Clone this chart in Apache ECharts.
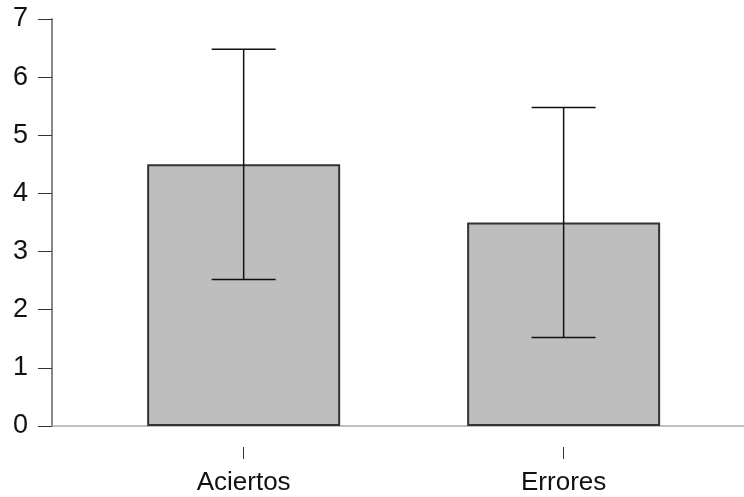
<!DOCTYPE html>
<html>
<head>
<meta charset="utf-8">
<script src="https://cdn.jsdelivr.net/npm/echarts@6/dist/echarts.min.js"></script>
<style>html,body{margin:0;padding:0;background:#fff;}#c{width:744px;height:497px;}</style>
</head>
<body>
<div id="c"></div>
<script>
const categories = ['Aciertos', 'Errores'];
const positions = [1, 2];
const means = [4.5, 3.5];
const lower = [2.52, 1.52];
const upper = [6.48, 5.48];
const yTicks = [0, 1, 2, 3, 4, 5, 6, 7];

const FONT = 'Liberation Sans, Arial, sans-serif';
const chart = echarts.init(document.getElementById('c'), null, {renderer: 'canvas'});
const xMin = 0.401, xMax = 2.5637;

chart.setOption({
  animation: false,
  backgroundColor: '#fff',
  grid: {left: 52, right: 0, top: 19, bottom: 71, containLabel: false},
  xAxis: [{
    type: 'value', min: xMin, max: xMax, position: 'bottom', offset: 21,
    axisLine: {show: false, onZero: false},
    splitLine: {show: false},
    axisTick: {show: true, customValues: positions, length: 12, lineStyle: {color: '#333', width: 1}},
    axisLabel: {show: true, customValues: positions, margin: 23, fontSize: 26, color: '#111', fontFamily: FONT,
      formatter: v => categories[positions.indexOf(Math.round(v))] || ''}
  }, {
    type: 'value', min: xMin, max: xMax, position: 'bottom', offset: 0,
    axisLine: {show: true, onZero: false, lineStyle: {color: '#aaa', width: 1.5}},
    axisTick: {show: false}, axisLabel: {show: false}, splitLine: {show: false}
  }],
  yAxis: {
    type: 'value', min: 0, max: 7, interval: 1,
    axisLine: {show: true, onZero: false, lineStyle: {color: '#888', width: 2}},
    axisTick: {show: true, length: 14, lineStyle: {color: '#333', width: 1}},
    axisLabel: {margin: 24, fontSize: 27, color: '#111', fontFamily: FONT,
      formatter: v => yTicks.includes(v) ? String(v) : ''},
    splitLine: {show: false}
  },
  series: [{
    type: 'bar', xAxisIndex: 0,
    data: positions.map((p, i) => [p, means[i]]),
    barWidth: 193,
    itemStyle: {color: '#bebebe', borderColor: '#333', borderWidth: 2}
  }, {
    type: 'custom', xAxisIndex: 0, z: 5,
    data: positions.map((p, i) => [p, lower[i], upper[i]]),
    renderItem: function (params, api) {
      const x = api.value(0);
      const lo = api.coord([x, api.value(1)]);
      const hi = api.coord([x, api.value(2)]);
      const hw = 32;
      const style = {stroke: '#111', lineWidth: 1.5};
      return {type: 'group', children: [
        {type: 'line', shape: {x1: lo[0], y1: lo[1], x2: hi[0], y2: hi[1]}, style},
        {type: 'line', shape: {x1: hi[0] - hw, y1: hi[1], x2: hi[0] + hw, y2: hi[1]}, style},
        {type: 'line', shape: {x1: lo[0] - hw, y1: lo[1], x2: lo[0] + hw, y2: lo[1]}, style}
      ]};
    }
  }]
});
</script>
</body>
</html>
